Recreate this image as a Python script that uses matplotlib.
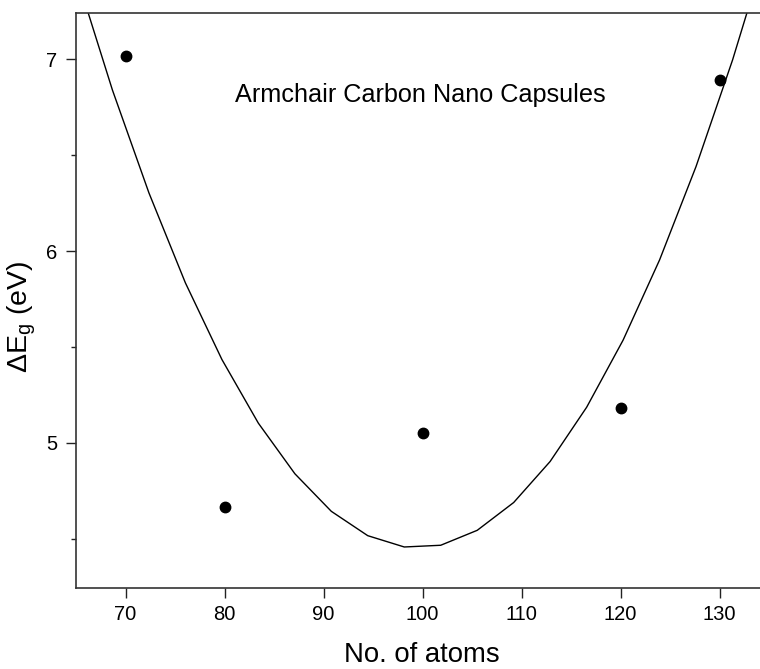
import numpy as np
import matplotlib
matplotlib.use("Agg")
import matplotlib.pyplot as plt
from matplotlib.ticker import MultipleLocator

plt.rcParams['font.family'] = ['Liberation Sans', 'DejaVu Sans']
plt.rcParams['mathtext.default'] = 'regular'

# measured points
atoms = [70, 80, 100, 120, 130]
gap = [7.02, 4.665, 5.05, 5.18, 6.89]

# fitted curve (polyline vertices)
curve_x = [65.0, 68.68, 72.37, 76.05, 79.74, 83.42, 87.11, 90.79, 94.47, 98.16,
           101.84, 105.53, 109.21, 112.89, 116.58, 120.26, 123.95, 127.63, 131.32, 135.0]
curve_y = [7.445, 6.840, 6.303, 5.834, 5.434, 5.102, 4.838, 4.642, 4.515, 4.456,
           4.465, 4.543, 4.688, 4.902, 5.185, 5.535, 5.954, 6.441, 6.997, 7.620]

W, H = 760, 669
fig = plt.figure(figsize=(W / 100, H / 100), dpi=100)
# axes box in pixels: left 76, right 769 (runs past the image edge), top 13, bottom 588
ax = fig.add_axes([76 / W, (H - 588) / H, 693 / W, 575 / H])

ax.plot(curve_x, curve_y, '-', color='black', lw=1.0)
ax.plot(atoms, gap, 'o', color='black', markersize=7.5)

ax.set_xlim(65, 135)
ax.set_ylim(4.242, 7.242)
ax.set_xticks([70, 80, 90, 100, 110, 120, 130])
ax.set_yticks([5, 6, 7])
ax.yaxis.set_minor_locator(MultipleLocator(0.5))

for side in ['left', 'bottom', 'top', 'right']:
    ax.spines[side].set_color('#333333')
    ax.spines[side].set_linewidth(1.2)

ax.tick_params(axis='both', which='major', length=7.5, width=1.0, color='#222222',
               labelsize=14.5, pad=5)
ax.tick_params(axis='y', which='major', pad=6)
ax.tick_params(axis='y', which='minor', length=3.8, width=1.0, color='#222222')

ax.text(81.06, 6.78, 'Armchair Carbon Nano Capsules', fontsize=18.2, va='baseline', ha='left')

fig.text(422 / W, 1 - 655 / H, 'No. of atoms', fontsize=19.8, ha='center', va='center')
fig.text(22 / W, 1 - 317 / H, r'$\Delta E_g$ (eV)', fontsize=20.5, ha='center', va='center',
         rotation=90)

fig.savefig('out.png', dpi=100)
